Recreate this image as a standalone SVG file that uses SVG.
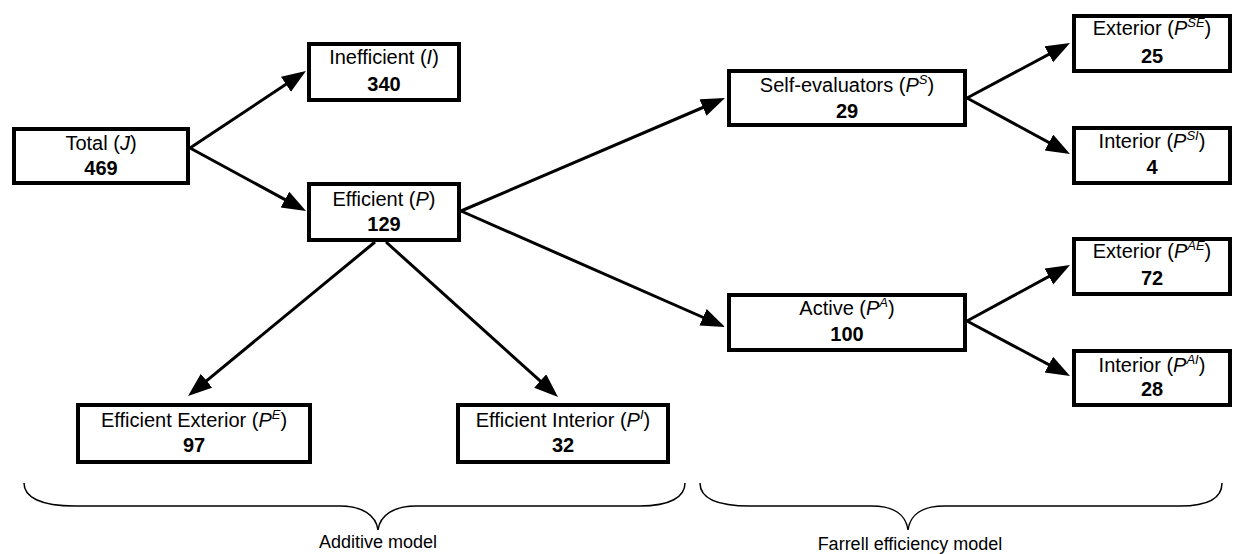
<svg xmlns="http://www.w3.org/2000/svg" width="1234" height="554" viewBox="0 0 1234 554">
<style>
.box{fill:#fff;stroke:#000;stroke-width:4}
.t{font-family:"Liberation Sans",Arial,sans-serif;font-size:20px;text-anchor:middle;fill:#000}
.b{font-weight:bold}
.i{font-style:italic}
.sup{font-size:13px;font-style:italic}
.conn line{stroke:#000;stroke-width:3;fill:none;marker-end:url(#ah)}
.brace{stroke:#000;stroke-width:1.5;fill:none}
.lbl{font-family:"Liberation Sans",Arial,sans-serif;font-size:18px;text-anchor:middle;fill:#000}
</style>
<defs>
<marker id="ah" markerUnits="userSpaceOnUse" markerWidth="26" markerHeight="20" refX="19" refY="9" orient="auto">
<path d="M0,0 L24,9 L0,18 z" fill="#000"/>
</marker>
</defs>
<rect width="1234" height="554" fill="#fff"/>
<g id="connectors" class="conn">
<line x1="190" y1="148" x2="301.8" y2="73.8"/>
<line x1="190" y1="148" x2="301.6" y2="208.6"/>
<line x1="461" y1="211" x2="720.4" y2="100"/>
<line x1="461" y1="211" x2="720.4" y2="325"/>
<line x1="375" y1="242" x2="191.9" y2="392.8"/>
<line x1="386" y1="242" x2="554.3" y2="393.7"/>
<line x1="967" y1="98" x2="1065.6" y2="45.4"/>
<line x1="967" y1="98" x2="1065.6" y2="151.6"/>
<line x1="967" y1="321" x2="1065.6" y2="267.4"/>
<line x1="967" y1="321" x2="1065.6" y2="373.6"/>
</g>
<g id="total">
<rect class="box" x="14" y="129" width="174" height="54"/>
<text class="t" x="101" y="150">Total (<tspan class="i">J</tspan>)</text>
<text class="t b" x="101" y="175">469</text>
</g>
<g id="inefficient">
<rect class="box" x="309" y="44" width="150" height="56"/>
<text class="t" x="384" y="64">Inefficient (<tspan class="i">I</tspan>)</text>
<text class="t b" x="384" y="91">340</text>
</g>
<g id="efficient">
<rect class="box" x="309" y="184" width="150" height="56"/>
<text class="t" x="384" y="206">Efficient (<tspan class="i">P</tspan>)</text>
<text class="t b" x="384" y="231">129</text>
</g>
<g id="efficient-exterior">
<rect class="box" x="78" y="405" width="232" height="57"/>
<text class="t" x="194" y="427">Efficient Exterior (<tspan class="i">P</tspan><tspan class="sup" dy="-8">E</tspan><tspan dy="8">)</tspan></text>
<text class="t b" x="194" y="452">97</text>
</g>
<g id="efficient-interior">
<rect class="box" x="458" y="405" width="210" height="57"/>
<text class="t" x="563" y="427">Efficient Interior (<tspan class="i">P</tspan><tspan class="sup" dy="-8">I</tspan><tspan dy="8">)</tspan></text>
<text class="t b" x="563" y="452">32</text>
</g>
<g id="self-evaluators">
<rect class="box" x="729" y="71" width="236" height="54"/>
<text class="t" x="847" y="92">Self-evaluators (<tspan class="i">P</tspan><tspan class="sup" dy="-8">S</tspan><tspan dy="8">)</tspan></text>
<text class="t b" x="847" y="118">29</text>
</g>
<g id="active">
<rect class="box" x="729" y="295" width="236" height="55"/>
<text class="t" x="847" y="315">Active (<tspan class="i">P</tspan><tspan class="sup" dy="-8">A</tspan><tspan dy="8">)</tspan></text>
<text class="t b" x="847" y="341">100</text>
</g>
<g id="exterior-se">
<rect class="box" x="1074" y="16" width="156" height="55"/>
<text class="t" x="1152" y="35">Exterior (<tspan class="i">P</tspan><tspan class="sup" dy="-8">SE</tspan><tspan dy="8">)</tspan></text>
<text class="t b" x="1152" y="63">25</text>
</g>
<g id="interior-si">
<rect class="box" x="1074" y="128" width="156" height="55"/>
<text class="t" x="1152" y="148">Interior (<tspan class="i">P</tspan><tspan class="sup" dy="-8">SI</tspan><tspan dy="8">)</tspan></text>
<text class="t b" x="1152" y="174">4</text>
</g>
<g id="exterior-ae">
<rect class="box" x="1074" y="239" width="156" height="55"/>
<text class="t" x="1152" y="258">Exterior (<tspan class="i">P</tspan><tspan class="sup" dy="-8">AE</tspan><tspan dy="8">)</tspan></text>
<text class="t b" x="1152" y="285">72</text>
</g>
<g id="interior-ai">
<rect class="box" x="1074" y="351" width="156" height="54"/>
<text class="t" x="1152" y="372">Interior (<tspan class="i">P</tspan><tspan class="sup" dy="-8">AI</tspan><tspan dy="8">)</tspan></text>
<text class="t b" x="1152" y="396">28</text>
</g>
<g id="additive-brace">
<path class="brace" d="M24,483 C24,497 40,506 75,506 L340,506 C362,506 376,515 378,530 C380,515 394,506 416,506 L640,506 C670,506 685,497 685,483"/>
<text class="lbl" x="378" y="548">Additive model</text>
</g>
<g id="farrell-brace">
<path class="brace" d="M700,483 C700,497 715,506 750,506 L872,506 C894,506 906,515 908,530 C910,515 922,506 944,506 L1180,506 C1210,506 1222,497 1222,483"/>
<text class="lbl" x="910" y="550">Farrell efficiency model</text>
</g>
</svg>
